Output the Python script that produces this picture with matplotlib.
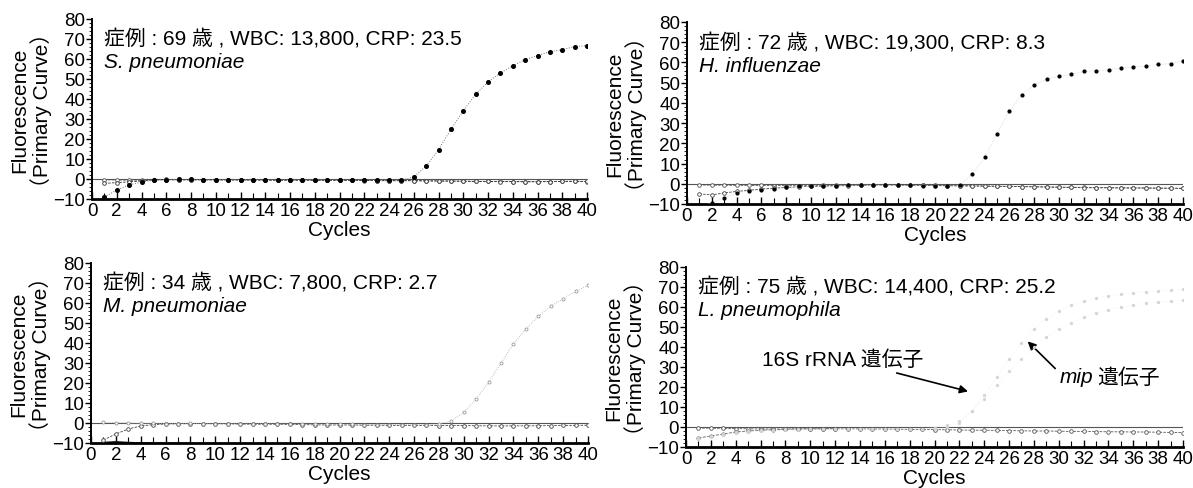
import matplotlib
matplotlib.use("Agg")
import matplotlib.pyplot as plt
from matplotlib.ticker import MultipleLocator
import numpy as np

plt.rcParams['font.family'] = ['Liberation Sans', 'Noto Sans CJK JP']

cycles = list(range(1, 41))

# ---- Panel 1: S. pneumoniae ----
p1_title = "症例 : 69 歳 , WBC: 13,800, CRP: 23.5"
p1_species = "S. pneumoniae"
p1_pos = [-9.0, -5.5, -3.0, -1.5, -0.6, -0.3, -0.2, -0.2, -0.3, -0.3,
          -0.3, -0.3, -0.4, -0.4, -0.4, -0.4, -0.4, -0.4, -0.5, -0.5,
          -0.5, -0.5, -0.6, -0.6, -0.5, 1.0, 6.5, 14.6, 24.8, 34.1,
          42.3, 48.6, 53.0, 56.6, 59.7, 61.7, 63.6, 64.7, 66.2, 66.7]
p1_neg1 = [-2.2, -1.8, -1.4, -1.0, -0.4, -0.2, -0.3, -0.3, -0.4, -0.4,
           -0.4, -0.5, -0.5, -0.5, -0.6, -0.6, -0.6, -0.6, -0.6, -0.6,
           -0.6, -0.7, -0.8, -0.8, -0.8, -0.8, -0.9, -1.0, -1.0, -1.1,
           -1.2, -1.2, -1.3, -1.3, -1.4, -1.4, -1.3, -1.2, -1.1, -1.2]
p1_neg2 = [-0.4, -0.5, -0.6, -0.6, -0.5, -0.4, -0.5, -0.5, -0.4, -0.5,
           -0.5, -0.5, -0.5, -0.6, -0.6, -0.5, -0.6, -0.6, -0.7, -0.7,
           -0.7, -0.8, -0.8, -0.9, -0.9, -0.9, -1.0, -1.0, -1.1, -1.1,
           -1.2, -1.2, -1.2, -1.3, -1.3, -1.3, -1.3, -1.2, -1.2, -1.3]

# ---- Panel 2: H. influenzae ----
p2_title = "症例 : 72 歳 , WBC: 19,300, CRP: 8.3"
p2_species = "H. influenzae"
p2_pos = [-11.0, -9.5, -7.0, -4.5, -3.5, -3.0, -2.5, -1.8, -1.3, -1.2,
          -1.0, -0.9, -0.8, -0.6, -0.5, -0.6, -0.7, -0.8, -0.9, -0.9,
          -1.0, -0.6, 4.7, 13.0, 24.8, 35.8, 44.1, 48.8, 51.7, 53.2,
          54.1, 55.6, 55.9, 56.4, 57.2, 57.7, 58.2, 59.0, 59.4, 60.9]
p2_neg1 = [-5.0, -5.5, -4.5, -3.8, -3.2, -2.6, -2.2, -1.8, -1.5, -1.3,
           -1.2, -1.0, -0.9, -0.7, -0.5, -0.5, -0.5, -0.6, -0.7, -0.8,
           -0.9, -1.0, -1.0, -1.1, -1.2, -1.3, -1.4, -1.5, -1.6, -1.7,
           -1.8, -1.9, -2.0, -2.0, -2.1, -2.1, -2.1, -2.2, -2.2, -2.3]
p2_neg2 = [-0.6, -0.7, -0.7, -0.8, -0.8, -0.8, -0.9, -0.9, -0.9, -0.9,
           -0.8, -0.8, -0.7, -0.6, -0.5, -0.6, -0.6, -0.7, -0.8, -0.9,
           -1.0, -1.0, -1.1, -1.2, -1.3, -1.3, -1.4, -1.5, -1.6, -1.7,
           -1.7, -1.8, -1.9, -1.9, -2.0, -2.0, -2.1, -2.1, -2.2, -2.2]

# ---- Panel 3: M. pneumoniae ----
p3_title = "症例 : 34 歳 , WBC: 7,800, CRP: 2.7"
p3_species = "M. pneumoniae"
p3_pos = [0.3, 0.2, 0.0, -0.2, -0.2, -0.3, -0.3, -0.2, -0.3, -0.3,
          -0.3, -0.4, -0.4, -0.4, -0.5, -0.5, -0.6, -0.6, -0.7, -0.7,
          -0.7, -0.8, -0.8, -0.8, -0.8, -0.9, -0.8, -0.5, 1.0, 5.3,
          12.0, 20.4, 29.9, 39.6, 47.0, 53.3, 58.4, 62.1, 65.8, 68.8]
p3_neg1 = [-8.5, -5.5, -3.0, -1.5, -0.8, -0.5, -0.4, -0.3, -0.3, -0.4,
           -0.4, -0.5, -0.6, -0.6, -0.6, -0.7, -0.8, -0.9, -1.0, -1.0,
           -1.0, -1.1, -1.1, -1.2, -1.2, -1.2, -1.2, -1.3, -1.3, -1.3,
           -1.4, -1.4, -1.5, -1.4, -1.4, -1.4, -1.3, -1.2, -1.2, -1.1]
p3_neg2 = [-9.8, -9.4, -9.8, -10.0, -10.1, -10.2, -10.2, -10.3, -10.3, -10.3,
           -10.4, -10.4, -10.5, -10.5, -10.5, -10.6, -10.6, -10.6, -10.7, -10.7,
           -10.7, -10.8, -10.8, -10.8, -10.9, -10.9, -10.9, -11.0, -11.0, -11.0,
           -11.1, -11.1, -11.1, -11.2, -11.2, -11.2, -11.3, -11.3, -11.3, -11.4]

# ---- Panel 4: L. pneumophila ----
p4_title = "症例 : 75 歳 , WBC: 14,400, CRP: 25.2"
p4_species = "L. pneumophila"
p4_16s = [-5.5, -4.5, -3.5, -2.5, -2.0, -1.6, -1.4, -1.2, -1.0, -0.9,
          -0.8, -0.8, -0.8, -0.8, -0.9, -0.9, -0.9, -1.0, -1.0, -0.8,
          0.0, 2.0, 8.0, 14.0, 21.0, 28.0, 34.0, 40.0, 45.0, 49.0,
          52.0, 55.0, 57.0, 58.5, 60.0, 61.0, 62.0, 62.5, 63.0, 63.5]
p4_mip = [-6.0, -4.8, -3.8, -3.0, -2.4, -2.0, -1.7, -1.5, -1.3, -1.2,
          -1.1, -1.0, -1.0, -1.0, -1.0, -1.0, -1.0, -1.0, -0.8, -0.3,
          0.8, 3.0, 8.0, 16.0, 25.0, 34.0, 42.0, 49.0, 54.0, 58.0,
          61.0, 63.0, 64.5, 65.5, 66.5, 67.0, 67.5, 68.0, 68.5, 69.0]
p4_neg = [-0.5, -0.6, -0.7, -0.8, -0.9, -1.0, -1.0, -1.0, -0.9, -0.9,
          -0.9, -0.9, -0.9, -0.9, -1.0, -1.0, -1.1, -1.2, -1.2, -1.3,
          -1.4, -1.5, -1.6, -1.6, -1.7, -1.8, -1.9, -2.0, -2.0, -2.1,
          -2.2, -2.2, -2.3, -2.4, -2.4, -2.5, -2.5, -2.6, -2.7, -2.8]
label_16s = "16S rRNA 遺伝子"
label_mip_italic = "mip"
label_mip_rest = "遺伝子"

x_ticks = list(range(0, 41, 2))
y_ticks = list(range(-10, 81, 10))

TXT = 15
TICK = 13.5
LAB = 15

fig = plt.figure(figsize=(11.93, 4.89), dpi=100)

rects = [
    [92/1193, 1-200/489, 495/1193, 180/489],
    [687/1193, 1-205/489, 496/1193, 182/489],
    [91/1193, 1-444/489, 497/1193, 180/489],
    [686/1193, 1-448/489, 497/1193, 180/489],
]

def style(ax):
    ax.set_xlim(0, 40)
    ax.set_ylim(-10, 80)
    for s in ['top', 'right']:
        ax.spines[s].set_visible(False)
    ax.spines['left'].set_linewidth(1.4)
    ax.spines['bottom'].set_linewidth(2.0)
    ax.set_xticks(x_ticks)
    ax.set_yticks(y_ticks)
    ax.set_yticklabels([("\u221210" if v == -10 else str(v)) for v in y_ticks])
    ax.xaxis.set_minor_locator(MultipleLocator(1))
    ax.yaxis.set_minor_locator(MultipleLocator(2))
    ax.tick_params(axis='x', which='major', direction='in', length=5, width=1.0,
                   labelsize=TICK, pad=2)
    ax.tick_params(axis='x', which='minor', direction='in', length=4, width=0.8)
    ax.tick_params(axis='y', which='major', direction='out', length=4, width=1.0,
                   labelsize=TICK, pad=1)
    ax.tick_params(axis='y', which='minor', direction='out', length=2, width=0.6)
    ax.axhline(0, color='#555555', lw=0.8, zorder=1)
    ax.set_xlabel("Cycles", fontsize=LAB, labelpad=1)
    ax.set_ylabel("Fluorescence\n（Primary Curve）", fontsize=LAB, labelpad=1,
                  linespacing=1.05)

def baseline(ax, y, color='#555555'):
    ax.plot(cycles, y, linestyle=(0, (3, 1.5)), lw=0.6, color=color,
            marker='o', markersize=2.6, markerfacecolor='white',
            markeredgewidth=0.6, markeredgecolor=color, zorder=3)

def header(ax, title, species):
    ax.text(1.0, 67.0, title, fontsize=TXT, va='baseline', ha='left')
    ax.text(1.0, 56.0, species, fontsize=TXT, va='baseline', ha='left',
            style='italic')

axes = [fig.add_axes(r) for r in rects]
for ax in axes:
    style(ax)

# Panel 1
ax = axes[0]
baseline(ax, p1_neg2)
baseline(ax, p1_neg1, '#333333')
ax.plot(cycles, p1_pos, linestyle=':', lw=0.7, color='#777777', marker='o',
        markersize=2.6, markerfacecolor='black', markeredgecolor='black', zorder=4)
header(ax, p1_title, p1_species)

# Panel 2
ax = axes[1]
baseline(ax, p2_neg2)
baseline(ax, p2_neg1, '#444444')
ax.plot(cycles, p2_pos, linestyle=':', lw=0.4, color='#bbbbbb', marker='o',
        markersize=2.0, markerfacecolor='black', markeredgecolor='black', zorder=4)
header(ax, p2_title, p2_species)

# Panel 3
ax = axes[2]
baseline(ax, p3_neg1, '#444444')
ax.plot(cycles, p3_neg2, linestyle='-', lw=1.2, color='#222222', zorder=2)
ax.plot(cycles, p3_pos, linestyle=':', lw=0.6, color='#aaaaaa', marker='o',
        markersize=2.2, markerfacecolor='white', markeredgecolor='#999999',
        markeredgewidth=0.6, zorder=4)
header(ax, p3_title, p3_species)

# Panel 4
ax = axes[3]
baseline(ax, p4_neg)
ax.plot(cycles, p4_16s, linestyle=':', lw=0.3, color='#e6e6e6', marker='o',
        markersize=1.3, markerfacecolor='#d4d4d4', markeredgecolor='#d4d4d4', zorder=4)
ax.plot(cycles, p4_mip, linestyle=':', lw=0.3, color='#e6e6e6', marker='o',
        markersize=1.3, markerfacecolor='#d4d4d4', markeredgecolor='#d4d4d4', zorder=4)
ax.plot(cycles[:12], p4_16s[:12], linestyle='--', lw=0.6, color='#555555',
        marker='o', markersize=2.4, markerfacecolor='white',
        markeredgecolor='#555555', markeredgewidth=0.5, zorder=3)
header(ax, p4_title, p4_species)
ax.annotate(label_16s, xy=(22.7, 17.8), xytext=(6.1, 34), fontsize=TXT,
            va='center', ha='left',
            arrowprops=dict(arrowstyle='-|>', color='black', lw=1.2,
                            mutation_scale=12, shrinkA=4, shrinkB=0))
mip_t = ax.annotate(label_mip_italic, xy=(27.5, 42.8), xytext=(30.1, 25),
                    fontsize=TXT, va='center', ha='left', style='italic',
                    arrowprops=dict(arrowstyle='-|>', color='black', lw=1.2,
                                    mutation_scale=12, shrinkA=2, shrinkB=0,
                                    relpos=(0, 0.7)))
fig.canvas.draw()
bb = mip_t.get_window_extent()
x_end = ax.transData.inverted().transform((bb.x1, bb.y0))[0]
ax.text(x_end + 0.25, 25, label_mip_rest, fontsize=TXT, va='center', ha='left')

fig.savefig("out.png", dpi=100)
